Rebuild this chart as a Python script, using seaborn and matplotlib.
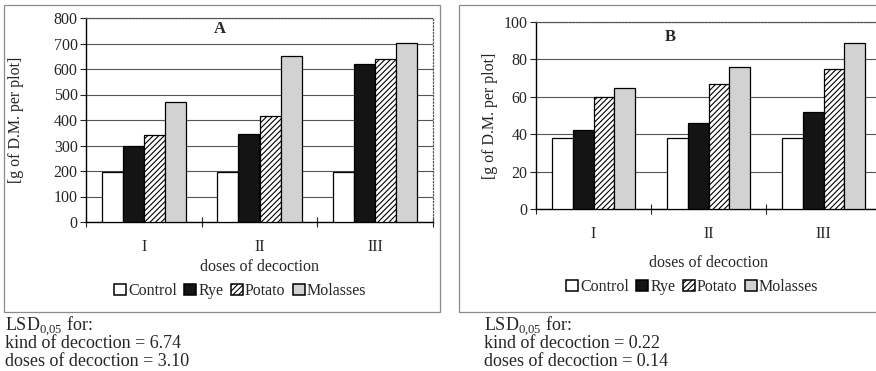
# Dry matter yield per plot for decoction kinds and doses, panels A and B

import pandas as pd
import seaborn as sb
import matplotlib.pyplot as plt
from matplotlib.patches import Patch, Rectangle

# Data
doses = ["I", "II", "III"]
kinds = ["Control", "Rye", "Potato", "Molasses"]

# panel A, one list per kind, in dose order
a_control = [197, 197, 197]
a_rye = [297, 347, 621]
a_potato = [340, 414, 640]
a_molasses = [470, 652, 703]

# panel B
b_control = [38, 38, 38]
b_rye = [42.3, 46, 52.1]
b_potato = [59.9, 66.8, 75]
b_molasses = [64.5, 75.9, 89]

lsd_a = ["6.74", "3.10"]
lsd_b = ["0.22", "0.14"]


def long_table(control, rye, potato, molasses):
    rows = []
    for kind, vals in zip(kinds, [control, rye, potato, molasses]):
        for d, v in zip(doses, vals):
            rows.append({"dose": d, "kind": kind, "value": v})
    return pd.DataFrame(rows)


df_a = long_table(a_control, a_rye, a_potato, a_molasses)
df_b = long_table(b_control, b_rye, b_potato, b_molasses)

sb.set_theme(style="white")
plt.rcParams["font.family"] = ["Liberation Serif", "DejaVu Serif"]
plt.rcParams["mathtext.fontset"] = "custom"
plt.rcParams["mathtext.rm"] = "Liberation Serif"
plt.rcParams["hatch.linewidth"] = 0.8

fills = {"Control": "white", "Rye": "#141414", "Potato": "white", "Molasses": "#d2d2d2"}
hatches = {"Control": "", "Rye": "", "Potato": "//////", "Molasses": ""}

fig = plt.figure(figsize=(8.76, 3.71), dpi=100)
W, H = 876, 371


def px_axes(x0, y0, x1, y1):
    # pixel box (top-left origin) -> figure fraction
    return fig.add_axes([x0 / W, 1 - y1 / H, (x1 - x0) / W, (y1 - y0) / H])


# panel frames
fig.patches.append(Rectangle((4 / W, 1 - 312 / H), 436 / W, 307 / H, transform=fig.transFigure,
                             fill=False, edgecolor="#8a8a8a", linewidth=0.9))
fig.patches.append(Rectangle((459 / W, 1 - 312 / H), 430 / W, 307 / H, transform=fig.transFigure,
                             fill=False, edgecolor="#8a8a8a", linewidth=0.9))

ax_a = px_axes(86, 18, 433, 222)
ax_b = px_axes(536, 22, 881, 209)

panels = [
    # ax, data, ymax, step, letter, letter pos, xlabel y, legend (x, y), ylabel x (pixels)
    (ax_a, df_a, 800, 100, "A", (0.386, 0.945), 267, (240, 291), 16),
    (ax_b, df_b, 100, 20, "B", (0.388, 0.92), 263, (692, 287), 490),
]

for ax, df, ymax, step, letter, lpos, xl_y, leg_xy, yl_x in panels:
    sb.barplot(data=df, x="dose", y="value", hue="kind", hue_order=kinds, order=doses,
               palette=fills, saturation=1, width=0.73, edgecolor="black", linewidth=0.9,
               legend=False, ax=ax, zorder=3)
    for kind, cont in zip(kinds, ax.containers):
        for bar in cont:
            bar.set_hatch(hatches[kind])

    ax.set_xlim(-0.5, 2.5)
    ax.set_ylim(0, ymax)
    ax.set_yticks(range(0, ymax + 1, step))
    ax.yaxis.grid(True, color="#555555", linewidth=0.8, zorder=0)
    ax.set_axisbelow(True)
    ax.tick_params(axis="y", direction="out", length=4, width=0.8, labelsize=11.5, pad=2, left=True)
    ax.set_xticks([0, 1, 2])
    ax.set_xticklabels(doses, fontsize=11.5)
    ax.tick_params(axis="x", length=0, pad=12)
    ax.set_xticks([-0.5, 0.5, 1.5, 2.5], minor=True)
    ax.tick_params(axis="x", which="minor", direction="inout", length=7, width=0.8, bottom=True)

    for side in ["left", "bottom"]:
        ax.spines[side].set_color("black")
        ax.spines[side].set_linewidth(1.0)
    for side in ["top", "right"]:
        ax.spines[side].set_color("#555555")
        ax.spines[side].set_linestyle(":")
        ax.spines[side].set_linewidth(0.9)

    ax.set_xlabel("doses of decoction", fontsize=11.5, va="center")
    ax.xaxis.set_label_coords(ax.get_position().x0 + ax.get_position().width / 2,
                              1 - xl_y / H, transform=fig.transFigure)
    ax.set_ylabel("[g of D.M. per plot]", fontsize=11.5, va="center")
    ax.yaxis.set_label_coords(yl_x / W, (ax.get_position().y0 + ax.get_position().y1) / 2,
                              transform=fig.transFigure)
    ax.text(lpos[0], lpos[1], letter, transform=ax.transAxes, fontsize=12,
            fontweight="bold", ha="center", va="center")

    handles = [Patch(facecolor=fills[k], edgecolor="black", hatch=hatches[k], linewidth=1.1)
               for k in kinds]
    ax.legend(handles, kinds, loc="center", bbox_to_anchor=(leg_xy[0] / W, 1 - leg_xy[1] / H),
              bbox_transform=fig.transFigure, ncol=4, frameon=False, fontsize=11.5,
              handlelength=0.75, handleheight=0.75, handletextpad=0.15, columnspacing=0.45,
              borderpad=0)

# LSD notes under the panels
for x0, vals in [(5, lsd_a), (484, lsd_b)]:
    fig.text(x0 / W, 1 - 326 / H, r"LSD$_{\mathrm{0{,}05}}$ for:", fontsize=13, va="center")
    fig.text(x0 / W, 1 - 344 / H, f"kind of decoction = {vals[0]}", fontsize=13, va="center")
    fig.text(x0 / W, 1 - 362 / H, f"doses of decoction = {vals[1]}", fontsize=13, va="center")

fig.savefig("out.png", dpi=100)
